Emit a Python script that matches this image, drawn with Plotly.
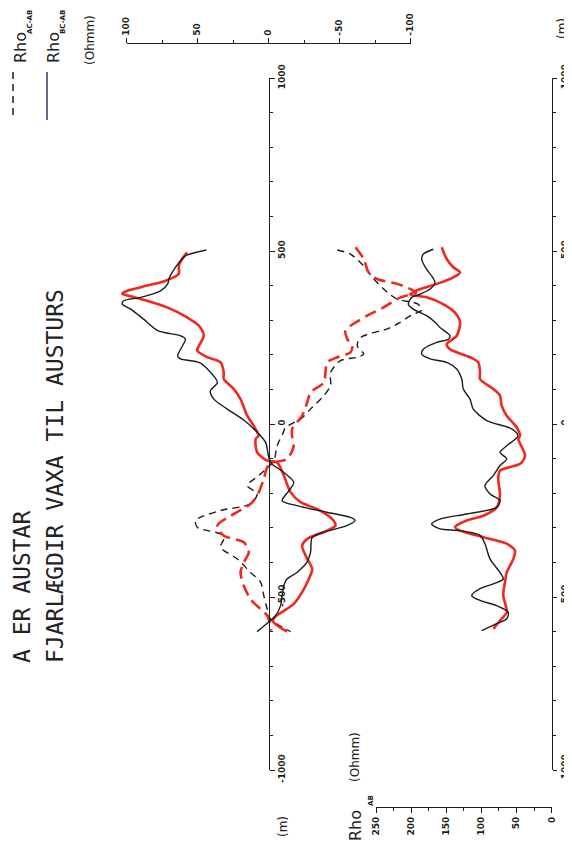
import plotly.graph_objects as go

# ---------------- data ----------------
# Upper panel: Rho differences (Ohmm) versus distance (m)
bc_black_d = [503, 486, 467, 438, 421, 405, 385, 366, 356, 347, 332, 303, 270, 255, 246, 197, 188, 178, 159, 120, 96, 72, 43, 10,
              -34, -53, -111, -140, -169, -193, -222, -236, -255, -270, -279, -294, -313, -328, -371, -400, -429, -448, -467,
              -496, -525, -554, -568, -600]
bc_black_v = [43.7, 58.5, 63, 67.8, 70, 71, 76, 90, 102, 103, 97, 88, 78, 62, 58.5, 64, 62, 49, 43, 36, 41, 38.5, 29, 17,
              5.6, 2, -1.4, -10.8, -17.8, -14.3, -9.6, -20, -41, -57.7, -61, -55, -39, -30.8, -29.6, -27, -20, -13, -10.8,
              -9.6, -8.5, -5, -1.4, 8]

bc_red_d = [496, 477, 457, 434, 414, 400, 385, 376, 369, 356, 337, 308, 284, 255, 226, 212, 193, 178, 149, 130, 101, 72, 24, -5,
            -34, -43, -82, -106, -111, -149, -197, -226, -246, -275, -294, -308, -332, -352, -390, -419, -448, -486, -520,
            -540, -556, -570, -600]
bc_red_v = [57.3, 60.8, 63.2, 63.2, 72.5, 85.4, 99.5, 103, 97, 85.4, 71.3, 57.3, 49, 45.6, 49, 50.2, 43.2, 33.8, 31.5, 31.5, 24.4,
            19.7, 15, 10.4, 7, 9, 8, 1, -6, -10.8, -15.5, -22.5, -34.3, -44.9, -47.2, -41.3, -27.3, -23.7, -27.3, -30.8,
            -28.4, -23.7, -17.8, -10.8, -5, -3, -13]

ac_black_d = [503, 491, 457, 419, 381, 361, 347, 330, 313, 292, 275, 250, 226, 202, 193, 183, 149, 111, 82, 43, 14, -10, -29,
              -63, -106, -149, -178, -202, -231, -250, -279, -299, -318, -332, -356, -390, -429, -457, -496, -535, -564, -600]
ac_black_v = [-48.4, -57.7, -67, -74.2, -83.6, -90.6, -105, -108, -100, -92, -83.6, -64.8, -62.5, -67, -62.5, -50.7, -43.7, -43.7,
              -39, -29.6, -22.5, -12, -10, -6, -3.7, 6.8, 15, 8, 12.7, 33.8, 51.4, 50, 33.8, 31.5, 33.8, 22, 12.7, 5.6, 3.3,
              0.9, -1.4, -15.5]

ac_red_d = [511, 477, 438, 419, 405, 390, 380, 366, 337, 313, 284, 270, 246, 226, 207, 193, 178, 149, 120, 91, 63, 24, -14, -38,
            -63, -101, -111, -125, -159, -207, -231, -260, -294, -323, -342, -371, -400, -429, -467, -506, -535, -554, -597]
ac_red_v = [-61.3, -67, -70.6, -76.5, -90.6, -100, -104, -93, -81, -69.5, -57.7, -54.2, -55.4, -59, -57.7, -48.4, -41.3, -40.1,
            -39, -29.6, -27.3, -23.7, -16.7, -16.7, -17.8, -13, -3.7, 0.9, 3.3, 8, 12.7, 24.4, 36, 31.5, 17.4, 13.9, 17.4,
            19.7, 17.4, 12.7, 5.6, 0.9, -2]

# Lower panel: Rho AB (Ohmm) versus distance (m)
ab_black_d = [505, 491, 476, 447, 428, 409, 390, 375, 366, 346, 332, 313, 294, 279, 255, 245, 236, 216, 202, 188, 178, 159, 130,
              101, 72, 43, 10, -14, -34, -63, -82, -101, -120, -149, -178, -202, -221, -241, -260, -275, -289, -303, -308,
              -322, -346, -390, -429, -448, -462, -476, -496, -510, -525, -544, -563, -577, -597]
ab_black_r = [168.5, 182.7, 185, 178, 170.8, 166, 173, 187.4, 199.2, 204, 197, 178, 166, 159, 144.7, 147, 163.6, 182.7, 185, 173,
              149.4, 135.2, 128, 125.8, 116.3, 111.6, 92.5, 57, 48, 64, 73.6, 64, 73.6, 83, 95, 87.8, 73.6, 78.3, 121, 159,
              170.8, 159, 130.5, 102, 95, 87.8, 73.6, 68.9, 83, 102, 113.8, 102, 78.3, 61.8, 64, 78.3, 99.6]

ab_red_d = [511, 477, 453, 438, 424, 405, 390, 375, 366, 346, 322, 294, 255, 231, 216, 193, 178, 149, 130, 101, 82, 53, 24, -10,
            -34, -43, -91, -115, -135, -159, -207, -241, -265, -279, -298, -308, -327, -346, -366, -390, -429, -457, -496,
            -544, -568, -592]
ab_red_r = [156.5, 149.4, 140, 130.5, 140, 163.6, 187.4, 201.6, 178, 154, 137.6, 130.5, 135.2, 149.4, 144.7, 116.3, 104.5, 102, 102,
            83, 73.6, 71.2, 64, 49.8, 45, 47.5, 38, 45, 73.6, 76, 73.6, 78.3, 97.3, 121, 137.6, 130.5, 97.3, 64, 52.2, 54.6,
            64, 66.5, 68.9, 64, 73.6, 83]

# axis ticks / labels
dist_tickvals = [-1000, -500, 0, 500, 1000]
dist_ticktext = ["-1000", "-500", "0", "500", "1000"]
diff_tickvals = [100, 50, 0, -50, -100]
diff_ticktext = ["100", "50", "0", "-50", "-100"]
rho_tickvals = [250, 200, 150, 100, 50, 0]
rho_ticktext = ["250", "200", "150", "100", "50", "0"]

# ---------------- geometry (pixels of the browser page) ----------------
W, H = 572, 845
OFF = 8                     # default body margin of the html page
X0U, SU = 268.5, 1.42       # upper panel: value 0 position, px per Ohmm
X0L, SL = 551.7, 0.7027     # lower panel
Y_TOP, Y_BOT = 78, 770      # distance 1000 / -1000


def fx(px):
    return (px - OFF) / W


def fy(py):
    return 1 - (py - OFF) / H


BLACK = "#1c1c1c"
RED = "#f0281e"

fig = go.Figure()

fig.add_trace(go.Scatter(x=ac_black_v, y=ac_black_d, mode="lines", xaxis="x", yaxis="y",
                         line=dict(color=BLACK, width=1.4, dash="7px,5px", shape="spline", smoothing=0.8)))
fig.add_trace(go.Scatter(x=ac_red_v, y=ac_red_d, mode="lines", xaxis="x", yaxis="y",
                         line=dict(color=RED, width=2.6, dash="12px,6px", shape="spline", smoothing=0.8)))
fig.add_trace(go.Scatter(x=bc_red_v, y=bc_red_d, mode="lines", xaxis="x", yaxis="y",
                         line=dict(color=RED, width=2.6, shape="spline", smoothing=0.8)))
fig.add_trace(go.Scatter(x=bc_black_v, y=bc_black_d, mode="lines", xaxis="x", yaxis="y",
                         line=dict(color=BLACK, width=1.4, shape="spline", smoothing=0.8)))

fig.add_trace(go.Scatter(x=ab_red_r, y=ab_red_d, mode="lines", xaxis="x2", yaxis="y2",
                         line=dict(color=RED, width=2.6, shape="spline", smoothing=0.8)))
fig.add_trace(go.Scatter(x=ab_black_r, y=ab_black_d, mode="lines", xaxis="x2", yaxis="y2",
                         line=dict(color=BLACK, width=1.4, shape="spline", smoothing=0.8)))

# empty traces so the scale-bar axes are drawn
fig.add_trace(go.Scatter(x=[], y=[], xaxis="x3", yaxis="y", hoverinfo="skip"))
fig.add_trace(go.Scatter(x=[], y=[], xaxis="x4", yaxis="y2", hoverinfo="skip"))

tickfont = dict(family="DejaVu Sans", size=9, color=BLACK, weight="bold")
ydom = [fy(Y_BOT), fy(Y_TOP)]

common_axis = dict(showgrid=False, zeroline=False, showline=True, linecolor=BLACK, linewidth=1.3,
                   ticks="outside", tickcolor=BLACK, tickwidth=1.2, ticklen=5, tickangle=-90,
                   tickfont=tickfont, fixedrange=True, automargin=False)

# data axes span the whole figure so that the page-pixel mapping is linear
xr_up = [(X0U - OFF) / SU, (X0U - OFF - W) / SU]
xr_lo = [(X0L - OFF) / SL, (X0L - OFF - W) / SL]

fig.update_layout(
    width=W, height=H, margin=dict(l=0, r=0, t=0, b=0, pad=0), autosize=False,
    paper_bgcolor="white", plot_bgcolor="rgba(0,0,0,0)", showlegend=False,
    xaxis=dict(domain=[0, 1], range=xr_up, visible=False, anchor="y", automargin=False),
    xaxis2=dict(domain=[0, 1], range=xr_lo, visible=False, anchor="y2", automargin=False),
    yaxis=dict(common_axis, domain=ydom, range=[-1000, 1000], anchor="free", position=fx(X0U), side="right",
               tickmode="array", tickvals=dist_tickvals, ticktext=dist_ticktext,
               minor=dict(dtick=100, tick0=0, ticks="outside", ticklen=3, tickcolor=BLACK, tickwidth=1.2)),
    yaxis2=dict(common_axis, domain=ydom, range=[-1000, 1000], anchor="free", position=fx(X0L), side="right",
                tickmode="array", tickvals=dist_tickvals, ticktext=dist_ticktext, ticklen=4,
                minor=dict(dtick=100, tick0=0, ticks="outside", ticklen=3, tickcolor=BLACK, tickwidth=1.2)),
    xaxis3=dict(common_axis, domain=[fx(X0U - 100 * SU), fx(X0U + 100 * SU)], range=[100, -100],
                anchor="free", position=fy(42.7), side="top",
                tickmode="array", tickvals=diff_tickvals, ticktext=diff_ticktext,
                minor=dict(dtick=25, tick0=0, ticks="outside", ticklen=3, tickcolor=BLACK, tickwidth=1.2)),
    xaxis4=dict(common_axis, domain=[fx(X0L - 250 * SL), fx(X0L)], range=[250, 0],
                anchor="free", position=fy(807), side="bottom",
                tickmode="array", tickvals=rho_tickvals, ticktext=rho_ticktext,
                minor=dict(dtick=25, tick0=0, ticks="outside", ticklen=3, tickcolor=BLACK, tickwidth=1.2)),
)

ann_font = dict(family="DejaVu Sans Mono", size=23, color="#222")
rho_font = dict(family="DejaVu Sans", size=16, color="#222")
sub_font = dict(family="DejaVu Sans", size=7, color="#222", weight="bold")
small_font = dict(family="DejaVu Sans", size=12, color="#222")


def ann(text, px, py, font, xanchor="center", yanchor="middle"):
    fig.add_annotation(text=text, x=fx(px), y=fy(py), xref="paper", yref="paper", showarrow=False,
                       textangle=-90, font=font, xanchor=xanchor, yanchor=yanchor)


# titles
ann("A ER AUSTAR", 22, 665, ann_font, yanchor="bottom")
ann("FJARLÆGDIR VAXA TIL AUSTURS", 55, 665, ann_font, yanchor="bottom")

# legend
ann("Rho", 20, 48, rho_font)
ann("AC-AB", 30, 22, sub_font)
ann("Rho", 53, 48, rho_font)
ann("BC-AB", 63, 22, sub_font)
ann("(Ohmm)", 90, 40, small_font)
fig.add_shape(type="line", xref="paper", yref="paper", x0=fx(13), x1=fx(13), y0=fy(72), y1=fy(120),
              line=dict(color=BLACK, width=1.5, dash="7px,5px"))
fig.add_shape(type="line", xref="paper", yref="paper", x0=fx(47), x1=fx(47), y0=fy(72), y1=fy(120),
              line=dict(color="#4a2f6e", width=1.5))

# unit labels
ann("(m)", 283, 827, small_font)
ann("(m)", 562, 29, small_font)
ann("(Ohmm)", 355, 757, small_font)
ann("Rho", 355, 826, rho_font)
ann("AB", 371, 801, sub_font)

fig.write_html("out.html")
